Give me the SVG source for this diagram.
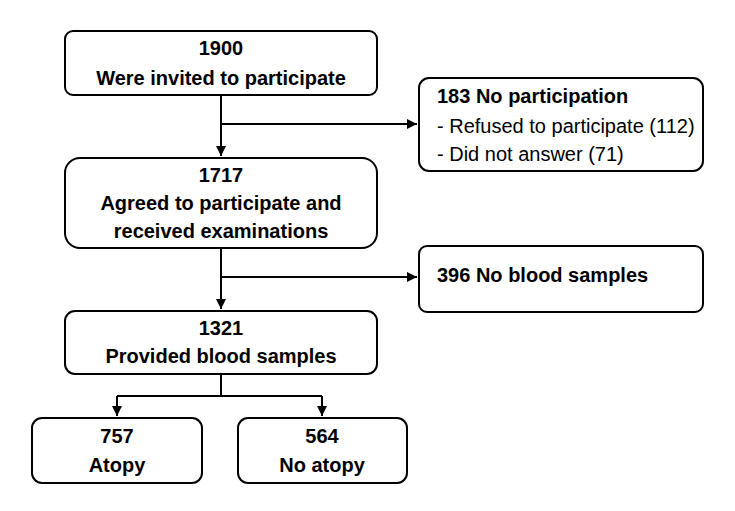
<svg xmlns="http://www.w3.org/2000/svg" width="735" height="511" viewBox="0 0 735 511">
<style>
.box{fill:#fff;stroke:#000;stroke-width:2}
.t{font-family:"Liberation Sans",Arial,sans-serif;font-size:20px;fill:#000}
.b{font-weight:bold}
.c{text-anchor:middle}
.ln{fill:none;stroke:#000;stroke-width:2}
</style>
<defs>
<marker id="ah" viewBox="0 0 10 10" refX="10" refY="5" markerWidth="5" markerHeight="5" orient="auto" markerUnits="strokeWidth">
<path d="M0,0 L10,5 L0,10 z" fill="#000"/>
</marker>
</defs>
<rect width="735" height="511" fill="#fff"/>
<g id="connectors">
<path class="ln" d="M221,95 V156" marker-end="url(#ah)"/>
<path class="ln" d="M221,124 H417" marker-end="url(#ah)"/>
<path class="ln" d="M221,248 V309" marker-end="url(#ah)"/>
<path class="ln" d="M221,277 H417" marker-end="url(#ah)"/>
<path class="ln" d="M221,374 V396"/>
<path class="ln" d="M117,396 H322"/>
<path class="ln" d="M117,396 V416" marker-end="url(#ah)"/>
<path class="ln" d="M322,396 V416" marker-end="url(#ah)"/>
</g>
<g id="invited">
<rect class="box" x="65" y="31" width="312" height="64" rx="8"/>
<text class="t b c" x="221" y="55">1900</text>
<text class="t b c" x="221" y="85">Were invited to participate</text>
</g>
<g id="agreed">
<rect class="box" x="65" y="158" width="312" height="90" rx="15"/>
<text class="t b c" x="221" y="182">1717</text>
<text class="t b c" x="221" y="210">Agreed to participate and</text>
<text class="t b c" x="221" y="238">received examinations</text>
</g>
<g id="noparticipation">
<rect class="box" x="419" y="78" width="284" height="93" rx="10"/>
<text class="t b" x="437" y="103">183 No participation</text>
<text class="t" x="437" y="133">- Refused to participate (112)</text>
<text class="t" x="437" y="161">- Did not answer (71)</text>
</g>
<g id="noblood">
<rect class="box" x="419" y="246" width="284" height="66" rx="8"/>
<text class="t b" x="437" y="282">396 No blood samples</text>
</g>
<g id="provided">
<rect class="box" x="65" y="311" width="312" height="63" rx="10"/>
<text class="t b c" x="221" y="335">1321</text>
<text class="t b c" x="221" y="363">Provided blood samples</text>
</g>
<g id="atopy">
<rect class="box" x="32" y="418" width="170" height="65" rx="10"/>
<text class="t b c" x="117" y="443">757</text>
<text class="t b c" x="117" y="472">Atopy</text>
</g>
<g id="noatopy">
<rect class="box" x="238" y="418" width="169" height="65" rx="10"/>
<text class="t b c" x="322" y="443">564</text>
<text class="t b c" x="322" y="472">No atopy</text>
</g>
</svg>
